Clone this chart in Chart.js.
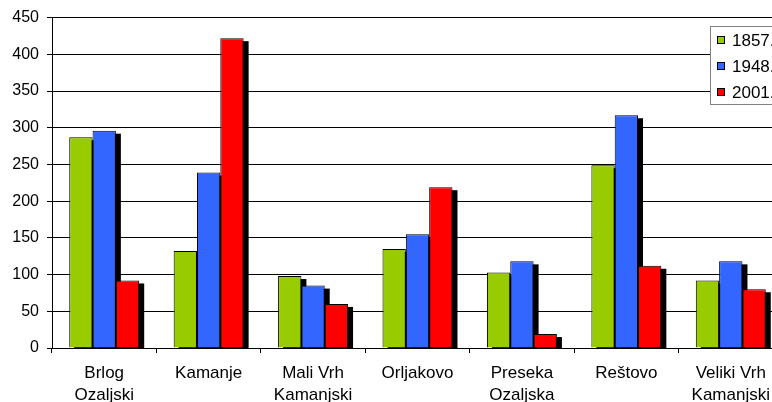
<!DOCTYPE html>
<html>
<head>
<meta charset="utf-8">
<script src="https://cdn.jsdelivr.net/npm/chart.js@4.4.0/dist/chart.umd.min.js"></script>
<style>
  html, body { margin: 0; padding: 0; background: #fff; }
  #wrap { width: 772px; height: 402px; overflow: hidden; position: relative; }
  #myChart { position: absolute; left: 0; top: 0; }
</style>
</head>
<body>
<div id="wrap"><canvas id="myChart" width="800" height="402"></canvas></div>
<script>
// categories (villages) and population per census year
var villages = [
  ['Brlog', 'Ozaljski'],
  'Kamanje',
  ['Mali Vrh', 'Kamanjski'],
  'Orljakovo',
  ['Preseka', 'Ozaljska'],
  'Reštovo',
  ['Veliki Vrh', 'Kamanjski']
];
var years = ['1857.', '1948.', '2001.'];
var pop1857 = [287, 132, 98, 135, 103, 249, 92];
var pop1948 = [296, 239, 85, 155, 118, 317, 118];
var pop2001 = [92, 422, 60, 219, 19, 112, 80];
var yTicks = [0, 50, 100, 150, 200, 250, 300, 350, 400, 450];

var colors = ['#99CC00', '#3366FF', '#FF0000'];
var FONT = 'Liberation Sans, Arial, sans-serif';

// black drop shadows behind the bars; drawn all first so the next bar covers them
var barShadow = {
  id: 'barShadow',
  beforeDatasetsDraw: function(chart) {
    var ctx = chart.ctx, area = chart.chartArea;
    ctx.save();
    ctx.beginPath();
    ctx.rect(area.left, area.top - 10, area.right - area.left + 20, area.bottom - area.top + 10);
    ctx.clip();
    ctx.fillStyle = '#000';
    chart.data.datasets.forEach(function(ds, i) {
      chart.getDatasetMeta(i).data.forEach(function(bar) {
        var p = bar.getProps(['x', 'y', 'base', 'width'], true);
        ctx.fillRect(p.x - p.width / 2 + 5, p.y + 3, p.width, p.base - p.y);
      });
    });
    ctx.restore();
  }
};

// legend box in the top right, partly cut off like the original
var boxLegend = {
  id: 'boxLegend',
  afterDraw: function(chart) {
    var ctx = chart.ctx;
    ctx.save();
    ctx.fillStyle = '#fff';
    ctx.fillRect(710, 26, 90, 79);
    ctx.strokeStyle = '#808080';
    ctx.lineWidth = 1;
    ctx.strokeRect(710.5, 26.5, 90, 78);
    var rows = [40, 66, 92];
    ctx.font = '17px ' + FONT;
    ctx.textBaseline = 'middle';
    years.forEach(function(y, i) {
      ctx.fillStyle = colors[i];
      ctx.fillRect(717, rows[i] - 4, 8, 8);
      ctx.strokeStyle = '#000';
      ctx.strokeRect(717.5, rows[i] - 3.5, 7, 7);
      ctx.fillStyle = '#000';
      ctx.fillText(y, 732, rows[i] + 1);
    });
    ctx.restore();
  }
};

var series = [pop1857, pop1948, pop2001];
var ctx = document.getElementById('myChart').getContext('2d');
var myChart = new Chart(ctx, {
  type: 'bar',
  data: {
    labels: villages,
    datasets: series.map(function(s, i) {
      return {
        label: years[i],
        data: s,
        backgroundColor: colors[i],
        borderColor: '#000',
        borderWidth: 1,
        borderSkipped: 'bottom',
        categoryPercentage: 0.67,
        barPercentage: 1
      };
    })
  },
  options: {
    responsive: false,
    animation: false,
    events: [],
    layout: { padding: { top: 16, right: 17, left: 0, bottom: 0 } },
    plugins: { legend: { display: false }, tooltip: { enabled: false } },
    scales: {
      x: {
        grid: { offset: true, drawOnChartArea: false, color: '#000', tickLength: 5 },
        border: { color: '#000' },
        ticks: {
          color: '#000', padding: 9, maxRotation: 0, autoSkip: false,
          font: { family: FONT, size: 17, lineHeight: 1.3 }
        },
        afterFit: function(s) { s.height = 54; }
      },
      y: {
        min: 0, max: 450,
        afterBuildTicks: function(s) { s.ticks = yTicks.map(function(v) { return { value: v }; }); },
        grid: { color: '#000', tickLength: 5 },
        border: { color: '#000' },
        ticks: { color: '#000', padding: 8, font: { family: FONT, size: 16 } },
        afterFit: function(s) { s.width = 52; }
      }
    }
  },
  plugins: [barShadow, boxLegend]
});
</script>
</body>
</html>
